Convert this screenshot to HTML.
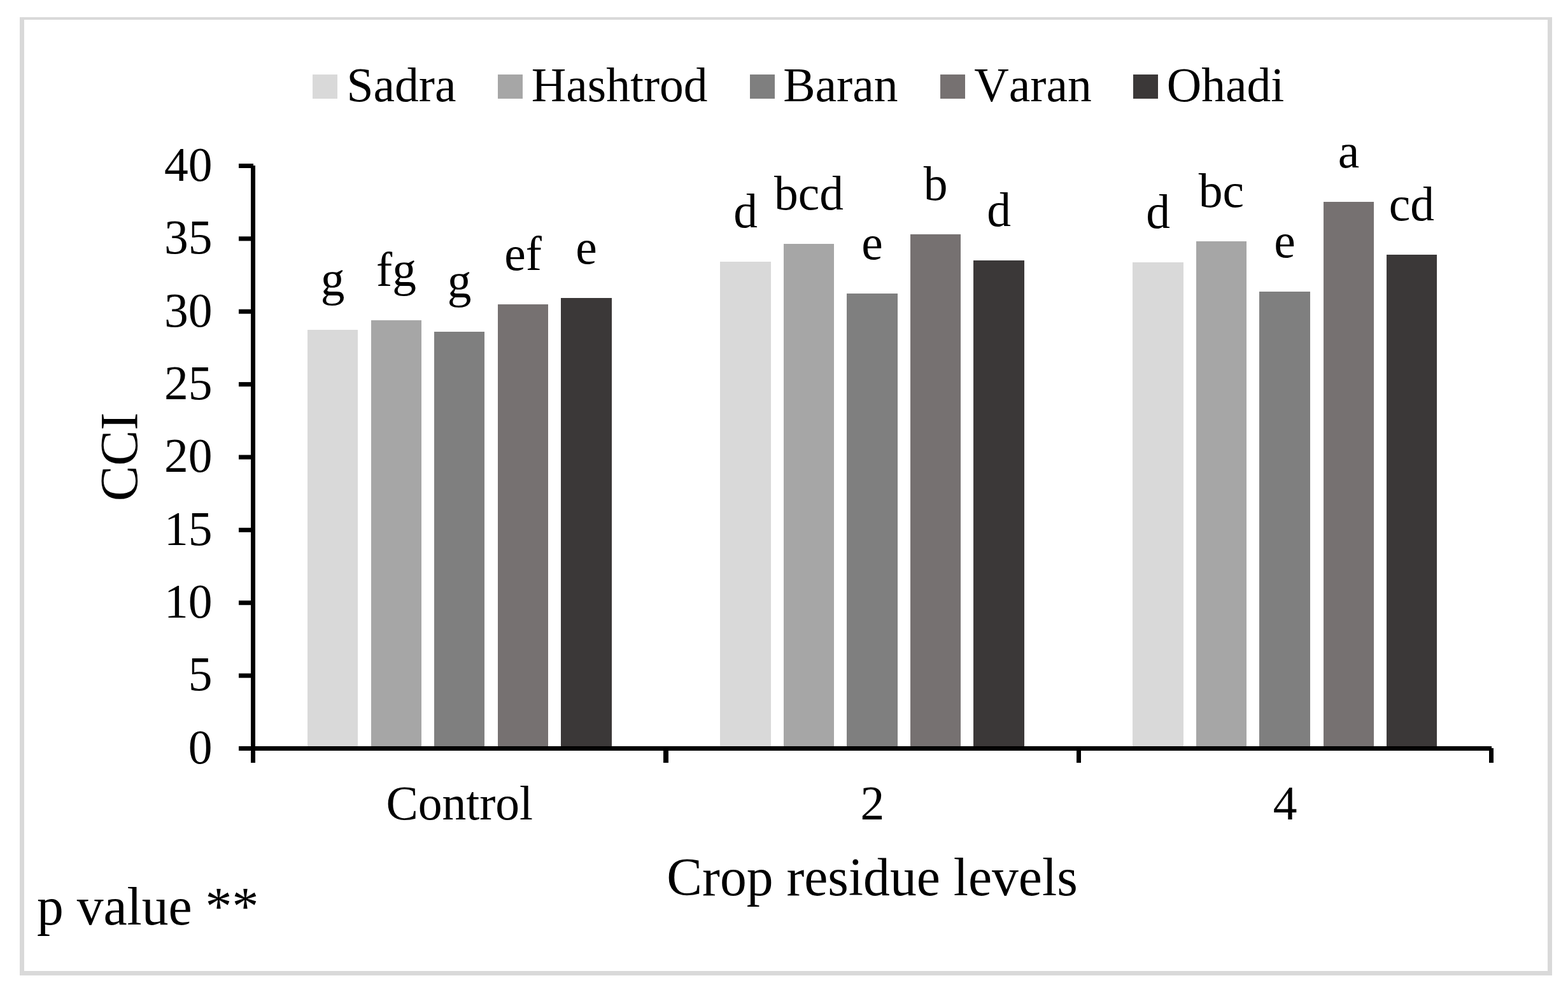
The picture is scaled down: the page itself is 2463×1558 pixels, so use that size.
<!DOCTYPE html><html><head><meta charset="utf-8"><title>CCI chart</title><style>
html,body{margin:0;padding:0;background:#fff;}
body{width:2463px;height:1558px;overflow:hidden;}
svg{display:block;}
text{font-family:"Liberation Serif","Times New Roman",serif;fill:#000;font-kerning:none;}
.t{font-size:75.5px;}
.T{font-size:83.6px;}
</style></head><body>
<svg width="2463" height="1558" viewBox="0 0 2463 1558">
<rect x="0" y="0" width="2463" height="1558" fill="#fff"/>
<rect x="31" y="27" width="2407" height="4" fill="#D9D9D9"/>
<rect x="31" y="27" width="7" height="1505" fill="#D9D9D9"/>
<rect x="2431" y="27" width="7" height="1505" fill="#D9D9D9"/>
<rect x="31" y="1525" width="2407" height="7" fill="#D9D9D9"/>
<rect x="483" y="518" width="79" height="654" fill="#D9D9D9"/>
<rect x="583" y="503" width="79" height="669" fill="#A6A6A6"/>
<rect x="682" y="521" width="79" height="651" fill="#7F7F7F"/>
<rect x="782" y="478" width="79" height="694" fill="#767171"/>
<rect x="881" y="468" width="80" height="704" fill="#3B3838"/>
<rect x="1131" y="411" width="80" height="761" fill="#D9D9D9"/>
<rect x="1231" y="383" width="79" height="789" fill="#A6A6A6"/>
<rect x="1330" y="461" width="80" height="711" fill="#7F7F7F"/>
<rect x="1430" y="368" width="79" height="804" fill="#767171"/>
<rect x="1529" y="409" width="80" height="763" fill="#3B3838"/>
<rect x="1779" y="412" width="80" height="760" fill="#D9D9D9"/>
<rect x="1879" y="379" width="79" height="793" fill="#A6A6A6"/>
<rect x="1978" y="458" width="80" height="714" fill="#7F7F7F"/>
<rect x="2079" y="317" width="79" height="855" fill="#767171"/>
<rect x="2178" y="400" width="79" height="772" fill="#3B3838"/>
<rect x="394" y="260" width="7" height="938" fill="#000"/>
<rect x="375" y="257.00" width="23" height="7" fill="#000"/>
<rect x="375" y="371.38" width="23" height="7" fill="#000"/>
<rect x="375" y="485.75" width="23" height="7" fill="#000"/>
<rect x="375" y="600.12" width="23" height="7" fill="#000"/>
<rect x="375" y="714.50" width="23" height="7" fill="#000"/>
<rect x="375" y="828.88" width="23" height="7" fill="#000"/>
<rect x="375" y="943.25" width="23" height="7" fill="#000"/>
<rect x="375" y="1057.62" width="23" height="7" fill="#000"/>
<rect x="375" y="1172.00" width="23" height="7" fill="#000"/>
<rect x="375" y="1172" width="1968" height="7" fill="#000"/>
<rect x="1042" y="1172" width="8" height="26" fill="#000"/>
<rect x="1691" y="1172" width="7" height="26" fill="#000"/>
<rect x="2339" y="1175" width="7" height="23" fill="#000"/>
<text class="t" x="333.5" y="283.8" text-anchor="end">40</text>
<text class="t" x="333.5" y="398.2" text-anchor="end">35</text>
<text class="t" x="333.5" y="512.5" text-anchor="end">30</text>
<text class="t" x="333.5" y="626.9" text-anchor="end">25</text>
<text class="t" x="333.5" y="741.3" text-anchor="end">20</text>
<text class="t" x="333.5" y="855.7" text-anchor="end">15</text>
<text class="t" x="333.5" y="970.0" text-anchor="end">10</text>
<text class="t" x="333.5" y="1084.4" text-anchor="end">5</text>
<text class="t" x="333.5" y="1198.8" text-anchor="end">0</text>
<text class="t" x="721.75" y="1287" text-anchor="middle">Control</text>
<text class="t" x="1370.25" y="1287" text-anchor="middle">2</text>
<text class="t" x="2018.5" y="1287" text-anchor="middle">4</text>
<text class="t" x="522.5" y="464.3" text-anchor="middle">g</text>
<text class="t" x="622.5" y="449.3" text-anchor="middle">fg</text>
<text class="t" x="721.5" y="467.3" text-anchor="middle">g</text>
<text class="t" x="821.5" y="424.3" text-anchor="middle">ef</text>
<text class="t" x="921.0" y="414.3" text-anchor="middle">e</text>
<text class="t" x="1171.0" y="357.3" text-anchor="middle">d</text>
<text class="t" x="1270.5" y="329.3" text-anchor="middle">bcd</text>
<text class="t" x="1370.0" y="407.3" text-anchor="middle">e</text>
<text class="t" x="1469.5" y="314.3" text-anchor="middle">b</text>
<text class="t" x="1569.0" y="355.3" text-anchor="middle">d</text>
<text class="t" x="1819.0" y="358.3" text-anchor="middle">d</text>
<text class="t" x="1918.5" y="325.3" text-anchor="middle">bc</text>
<text class="t" x="2018.0" y="404.3" text-anchor="middle">e</text>
<text class="t" x="2118.5" y="263.3" text-anchor="middle">a</text>
<text class="t" x="2217.5" y="346.3" text-anchor="middle">cd</text>
<text class="T" x="1370" y="1406" text-anchor="middle">Crop residue levels</text>
<text class="T" transform="translate(216 717.5) rotate(-90)" x="0" y="0" text-anchor="middle">CCI</text>
<text class="T" x="58" y="1451.7">p value **</text>
<rect x="491" y="117" width="39" height="38" fill="#D9D9D9"/>
<text class="t" x="544.6" y="158.6">Sadra</text>
<rect x="782" y="117" width="39" height="38" fill="#A6A6A6"/>
<text class="t" x="834.8" y="158.6">Hashtrod</text>
<rect x="1178" y="117" width="39" height="38" fill="#7F7F7F"/>
<text class="t" x="1230.2" y="158.6">Baran</text>
<rect x="1477" y="117" width="39" height="38" fill="#767171"/>
<text class="t" x="1530.3" y="158.6">Varan</text>
<rect x="1780" y="117" width="39" height="38" fill="#3B3838"/>
<text class="t" x="1832.7" y="158.6">Ohadi</text>
</svg></body></html>
